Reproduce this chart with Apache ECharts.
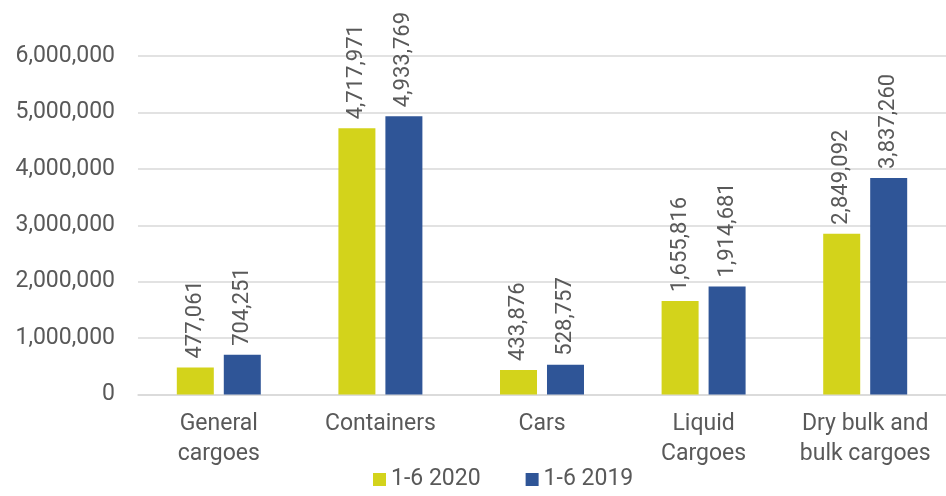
<!DOCTYPE html>
<html>
<head>
<meta charset="utf-8">
<script src="https://cdn.jsdelivr.net/npm/echarts@6/dist/echarts.min.js"></script>
<style>
  html, body { margin: 0; padding: 0; background: #fff; }
  #chart { width: 946px; height: 496px; }
</style>
</head>
<body>
<div id="chart"></div>
<script>
  // data
  var categories = ['General\ncargoes', 'Containers', 'Cars', 'Liquid\nCargoes', 'Dry bulk and\nbulk cargoes'];
  var seriesNames = ['1-6 2020', '1-6 2019'];
  var values2020 = [477061, 4717971, 433876, 1655816, 2849092];
  var values2019 = [704251, 4933769, 528757, 1914681, 3837260];

  var fmt = function (v) { return String(v).replace(/\B(?=(\d{3})+(?!\d))/g, ','); };
  var font = 'Roboto, "DejaVu Sans", sans-serif';

  var myChart = echarts.init(document.getElementById('chart'));

  var label = {
    show: true,
    position: 'top',
    rotate: 90,
    align: 'left',
    verticalAlign: 'middle',
    distance: 9,
    fontFamily: font,
    fontSize: 22,
    color: '#595959',
    formatter: function (p) { return fmt(p.value); }
  };

  var option = {
    animation: false,
    textStyle: { fontFamily: font },
    grid: { left: 138, right: 0, top: 56, bottom: 101.5 },
    legend: {
      data: seriesNames,
      left: 368,
      top: 463,
      icon: 'rect',
      itemWidth: 13,
      itemHeight: 13,
      itemGap: 45,
      textStyle: { fontFamily: font, fontSize: 23, color: '#595959' }
    },
    xAxis: {
      type: 'category',
      data: categories,
      axisLine: { lineStyle: { color: '#d9d9d9', width: 1.5 } },
      axisTick: { show: false },
      axisLabel: {
        color: '#595959', fontSize: 23, lineHeight: 30, margin: 15,
        fontFamily: font, interval: 0, hideOverlap: false
      }
    },
    yAxis: {
      type: 'value',
      min: 0,
      max: 6000000,
      interval: 1000000,
      axisLine: { show: false },
      axisTick: { show: false },
      splitLine: { lineStyle: { color: '#d9d9d9', width: 1.5 } },
      axisLabel: { color: '#595959', fontSize: 23, margin: 23, fontFamily: font, formatter: fmt }
    },
    series: [
      {
        name: seriesNames[0],
        type: 'bar',
        data: values2020,
        barWidth: 37,
        barGap: '27%',
        itemStyle: { color: '#d3d31b' },
        label: label
      },
      {
        name: seriesNames[1],
        type: 'bar',
        data: values2019,
        barWidth: 37,
        itemStyle: { color: '#2f5597' },
        label: label
      }
    ]
  };
  myChart.setOption(option);
</script>
</body>
</html>
